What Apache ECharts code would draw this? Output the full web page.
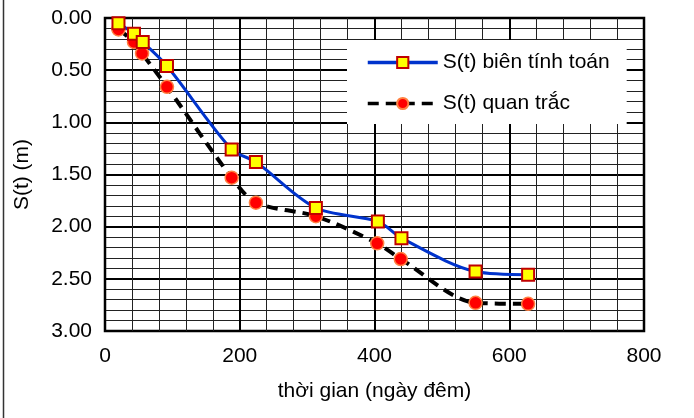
<!DOCTYPE html>
<html><head><meta charset="utf-8">
<script src="https://cdn.jsdelivr.net/npm/echarts@6/dist/echarts.min.js"></script>
<style>html,body{margin:0;padding:0;background:#fff}#c{width:694px;height:418px}</style>
</head><body><div id="c"></div>
<script>
var calcT = [20, 43, 56, 92, 188, 224, 313, 405, 440, 550, 628];
var calcS = [0.05, 0.15, 0.23, 0.46, 1.26, 1.38, 1.82, 1.95, 2.11, 2.43, 2.46];
var obsT = [20, 43, 55, 92, 188, 224, 313, 404, 439, 550, 628];
var obsS = [0.11, 0.23, 0.34, 0.66, 1.53, 1.77, 1.90, 2.16, 2.31, 2.73, 2.74];
var xTicks = [0, 200, 400, 600, 800];
var yTicks = ['0.00','0.50','1.00','1.50','2.00','2.50','3.00'];
var seriesNames = ['S(t) biên tính toán', 'S(t) quan trắc'];

function pairs(a, b){ return a.map(function(v,i){ return [v, b[i]]; }); }
var font = 'Liberation Sans, Arial, sans-serif';
var chart = echarts.init(document.getElementById('c'));
chart.setOption({
  animation: false,
  backgroundColor: '#fff',
  textStyle: {fontFamily: font},
  grid: {left: 105, top: 18, width: 539, height: 313, show: true, borderColor: '#000', borderWidth: 2.5},
  xAxis: {
    type: 'value', min: 0, max: 800, interval: 200,
    axisLine: {show: false}, axisTick: {show: false},
    axisLabel: {color: '#000', fontSize: 21, fontFamily: font, margin: 15},
    splitLine: {show: true, lineStyle: {color: '#000', width: 2}},
    minorTick: {show: false, splitNumber: 5},
    minorSplitLine: {show: true, lineStyle: {color: '#222', width: 1}},
    name: 'thời gian (ngày đêm)', nameLocation: 'middle', nameGap: 50,
    nameTextStyle: {color: '#000', fontSize: 21, fontFamily: font}
  },
  yAxis: {
    type: 'value', min: 0, max: 3, interval: 0.5, inverse: true,
    axisLine: {show: false}, axisTick: {show: false},
    axisLabel: {color: '#000', fontSize: 21, fontFamily: font, margin: 13,
      formatter: function(v){ return yTicks[Math.round(v/0.5)]; }},
    splitLine: {show: true, lineStyle: {color: '#000', width: 2}},
    minorTick: {show: false, splitNumber: 5},
    minorSplitLine: {show: true, lineStyle: {color: '#222', width: 1}},
    name: 'S(t) (m)', nameLocation: 'middle', nameGap: 72, nameRotate: 90,
    nameTextStyle: {color: '#000', fontSize: 21, fontFamily: font}
  },
  legend: {
    left: 347, top: 40,
    orient: 'vertical', itemWidth: 70, itemHeight: 14, itemGap: 20,
    padding: [12, 17, 10, 19],
    backgroundColor: '#fff', borderWidth: 0,
    textStyle: {color: '#000', fontSize: 21, fontFamily: font},
    lineStyle: {width: 3.5},
    data: seriesNames
  },
  series: [
    {
      name: seriesNames[0], type: 'line', data: pairs(calcT, calcS), smooth: 0.3,
      symbol: 'rect', symbolSize: 12, z: 3,
      lineStyle: {color: '#0033CC', width: 3},
      itemStyle: {color: '#FFFF00', borderColor: '#C00000', borderWidth: 2}
    },
    {
      name: seriesNames[1], type: 'line', data: pairs(obsT, obsS), smooth: 0.3,
      symbol: 'circle', symbolSize: 13, z: 2,
      lineStyle: {color: '#000', width: 4, type: [11, 7]},
      itemStyle: {color: '#FF0000', borderColor: '#FF8040', borderWidth: 1.5}
    }
  ],
  graphic: [{type: 'line', shape: {x1: 3.5, y1: 0, x2: 3.5, y2: 418}, style: {stroke: '#333', lineWidth: 1.5}}]
});
</script></body></html>
